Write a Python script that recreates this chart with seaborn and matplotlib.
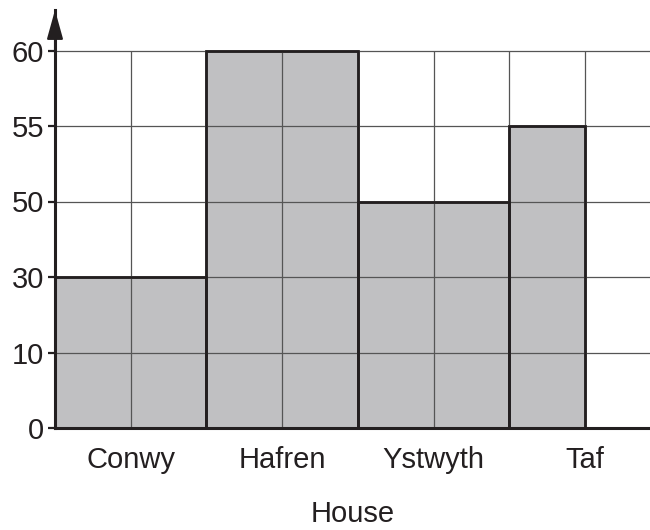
import numpy as np
import pandas as pd
import matplotlib
matplotlib.use("Agg")
import matplotlib.pyplot as plt
import seaborn as sns
from matplotlib.patches import Rectangle

# ---- data ----
houses = ["Conwy", "Hafren", "Ystwyth", "Taf"]
values = [30, 60, 50, 55]
bar_units = [2, 2, 2, 1]          # bar widths in grid columns
slot_units = [2, 2, 2, 2]         # slot width per house
ytick_values = [0, 10, 30, 50, 55, 60]   # evenly spaced (misleading) axis
xlabel = "House"

sns.set_style("white")
plt.rcParams["font.family"] = ["Liberation Sans", "DejaVu Sans"]

ink = "#231f20"
fill = "#c0c0c2"
gridc = "#555555"
fs = 21

# map values onto the evenly spaced tick positions
ypos_idx = np.arange(len(ytick_values))
heights = np.interp(values, ytick_values, ypos_idx)
slot_edges = np.concatenate([[0], np.cumsum(slot_units)])
lefts = slot_edges[:-1]
label_pos = lefts + np.array(slot_units) / 2
bin_edges = sorted(set(np.concatenate([lefts, lefts + np.array(bar_units)])))

fig = plt.figure(figsize=(6.5, 5.3), dpi=100)
ax = fig.add_axes([55 / 650, 102 / 530, 595 / 650, 418 / 530])

df = pd.DataFrame({"house": houses, "left": lefts, "h": heights})
sns.histplot(data=df, x="left", weights="h", bins=bin_edges, ax=ax,
             color=fill, edgecolor=ink, linewidth=1.8, alpha=1, zorder=2)

top_idx = ypos_idx[-1]
grid_cols = np.arange(1, int(slot_edges[-1]) + 1)
ax.vlines(grid_cols, 0, top_idx, colors=gridc, linewidth=0.9, zorder=3)
for yy in ypos_idx[1:]:
    ax.axhline(yy, color=gridc, linewidth=0.9, zorder=3)
# redraw bar edges above grid
for p in list(ax.patches):
    r = Rectangle(p.get_xy(), p.get_width(), p.get_height(), fill=False,
                  edgecolor=ink, linewidth=1.8, zorder=4)
    ax.add_patch(r)

ax.set_xlim(0, 595 / 75.7)
ax.set_ylim(0, (428 - 10) / 75.5)

ax.set_yticks(ypos_idx)
ax.set_yticklabels([str(v) for v in ytick_values])
ax.set_xticks(label_pos)
ax.set_xticklabels(houses)

ax.tick_params(axis="y", length=5, width=1.6, color=ink, labelsize=fs,
               labelcolor=ink, pad=3, left=True)
ax.tick_params(axis="x", length=0, labelsize=fs, labelcolor=ink, pad=13)
ax.set_xlabel(xlabel, fontsize=fs, color=ink, labelpad=19)
ax.set_ylabel("")

for s in ["top", "right"]:
    ax.spines[s].set_visible(False)
for s in ["left", "bottom"]:
    ax.spines[s].set_color(ink)
    ax.spines[s].set_linewidth(2.2)
    ax.spines[s].set_zorder(5)
ax.grid(False)

ax.annotate("", xy=(0, 1), xytext=(0, 0.9), xycoords="axes fraction",
            arrowprops=dict(arrowstyle="-|>,head_length=0.9,head_width=0.25",
                            mutation_scale=20, color=ink, lw=1.5,
                            shrinkA=0, shrinkB=0), annotation_clip=False)

fig.savefig("out.png", dpi=100)
